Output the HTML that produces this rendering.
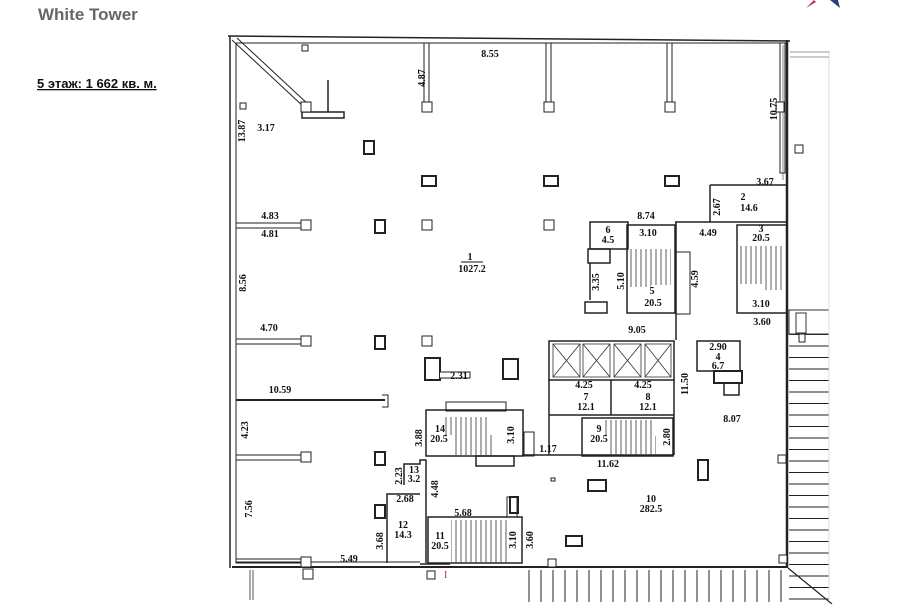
<!DOCTYPE html>
<html><head><meta charset="utf-8"><style>
html,body{margin:0;padding:0;background:#fff;width:900px;height:604px;overflow:hidden}
svg{display:block}
.t{font-family:"Liberation Serif",serif;font-size:10px;font-weight:bold;fill:#111}
</style></head><body>
<svg width="900" height="604" viewBox="0 0 900 604" xmlns="http://www.w3.org/2000/svg">
<defs>
<pattern id="vh" width="12" height="40" patternUnits="userSpaceOnUse"><line x1="1" y1="0" x2="1" y2="40" stroke="#222" stroke-width="1"/></pattern>
<pattern id="hh" width="40" height="11.5" patternUnits="userSpaceOnUse"><line x1="0" y1="1" x2="40" y2="1" stroke="#222" stroke-width="1"/></pattern>
<pattern id="st" width="5" height="40" patternUnits="userSpaceOnUse"><line x1="1" y1="0" x2="1" y2="40" stroke="#333" stroke-width="0.8"/></pattern>
</defs>
<text x="38" y="20" font-family="Liberation Sans,sans-serif" font-weight="bold" font-size="17" fill="#666">White Tower</text>
<text x="37" y="88" font-family="Liberation Sans,sans-serif" font-weight="bold" font-size="13" fill="#111" text-decoration="underline">5 этаж: 1 662 кв. м.</text>
<path d="M806 8 L814 0 L816 2 Z" fill="#c8324a"/><path d="M830 0 L840 8 L838 0 Z" fill="#2a3f80"/>

<rect x="789" y="333" width="40" height="267" fill="url(#hh)"/>
<rect x="789" y="310" width="40" height="24" fill="#fff" stroke="#333"/>
<rect x="796" y="313" width="10" height="20" fill="none" stroke="#333"/>
<rect x="518" y="570" width="270" height="32" fill="url(#vh)"/>
<line x1="788" y1="568" x2="832" y2="604" stroke="#222" stroke-width="1.2"/>
<line x1="250" y1="570" x2="250" y2="600" stroke="#555"/><line x1="253" y1="570" x2="253" y2="600" stroke="#555"/>
<line x1="829" y1="50" x2="829" y2="600" stroke="#ddd"/>
<line x1="790" y1="52" x2="829" y2="52" stroke="#999"/><line x1="790" y1="57" x2="829" y2="57" stroke="#999"/>

<g fill="none" stroke="#222">
<line x1="228" y1="36" x2="790" y2="41" stroke-width="1.5"/>
<line x1="236" y1="43" x2="788" y2="43" stroke-width="1"/>
<line x1="230" y1="36" x2="230" y2="568" stroke-width="1.5"/>
<line x1="236" y1="43" x2="236" y2="563" stroke-width="1"/>
<line x1="787" y1="40" x2="787" y2="568" stroke-width="2.5"/>
<line x1="783" y1="45" x2="783" y2="180" stroke="#888"/>
<line x1="232" y1="567" x2="788" y2="567" stroke-width="2"/>
<line x1="236" y1="562" x2="420" y2="562" stroke-width="1"/>
<line x1="232" y1="40" x2="305" y2="108" stroke-width="1"/><line x1="237" y1="38" x2="310" y2="106" stroke-width="1"/>
<rect x="302" y="112" width="42" height="6" stroke-width="1.5"/>
<line x1="328" y1="80" x2="328" y2="112" stroke-width="1.5"/>
<rect x="424" y="43" width="5" height="60"/><rect x="546" y="43" width="5" height="60"/><rect x="667" y="43" width="5" height="60"/><rect x="780" y="43" width="5" height="130"/>
<rect x="236" y="223" width="70" height="5"/><rect x="236" y="339" width="70" height="5"/><rect x="236" y="455" width="70" height="5"/><rect x="236" y="559" width="70" height="4"/>
<line x1="236" y1="400" x2="385" y2="400" stroke-width="2"/>
<path d="M382 395 H388 V407 H382"/>
</g>
<g fill="#fff" stroke="#222" stroke-width="1">
<rect x="301" y="102" width="10" height="10"/><rect x="422" y="102" width="10" height="10"/><rect x="544" y="102" width="10" height="10"/><rect x="665" y="102" width="10" height="10"/><rect x="776" y="102" width="8" height="10"/>
<rect x="301" y="220" width="10" height="10"/><rect x="422" y="220" width="10" height="10"/><rect x="544" y="220" width="10" height="10"/>
<rect x="301" y="336" width="10" height="10"/><rect x="422" y="336" width="10" height="10"/>
<rect x="301" y="452" width="10" height="10"/><rect x="301" y="557" width="10" height="10"/>
<rect x="303" y="569" width="10" height="10"/><rect x="427" y="571" width="8" height="8"/><rect x="795" y="145" width="8" height="8"/>
<rect x="302" y="45" width="6" height="6"/><rect x="240" y="103" width="6" height="6"/>
<rect x="364" y="141" width="10" height="13" stroke-width="2"/><rect x="375" y="220" width="10" height="13" stroke-width="2"/><rect x="375" y="336" width="10" height="13" stroke-width="2"/>
<rect x="422" y="176" width="14" height="10" stroke-width="2"/><rect x="544" y="176" width="14" height="10" stroke-width="2"/><rect x="665" y="176" width="14" height="10" stroke-width="2"/>
<rect x="425" y="358" width="15" height="22" stroke-width="2"/><path d="M440 372 H470 V378 H440" /><rect x="503" y="359" width="15" height="20" stroke-width="2"/>
<rect x="375" y="452" width="10" height="13" stroke-width="2"/><rect x="375" y="505" width="10" height="13" stroke-width="2"/>
<rect x="588" y="480" width="18" height="11" stroke-width="2"/><rect x="566" y="536" width="16" height="10" stroke-width="2"/><rect x="698" y="460" width="10" height="20" stroke-width="2"/>
<rect x="551" y="478" width="4" height="3"/>
<rect x="510" y="497" width="8" height="16" stroke-width="2"/>
<rect x="548" y="559" width="8" height="8"/><rect x="778" y="455" width="8" height="8"/><rect x="779" y="555" width="8" height="8"/><rect x="799" y="334" width="6" height="8"/>
</g>
<g fill="none" stroke="#222" stroke-width="1.5">
<rect x="627" y="225" width="48" height="88"/>
<rect x="590" y="222" width="38" height="27"/>
<rect x="588" y="249" width="22" height="14"/>
<line x1="590" y1="263" x2="590" y2="300"/>
<rect x="585" y="302" width="22" height="11"/>
<rect x="676" y="252" width="14" height="62" stroke-width="1"/>
<line x1="675" y1="222" x2="710" y2="222"/><line x1="710" y1="222" x2="710" y2="185"/><line x1="710" y1="185" x2="787" y2="185"/><line x1="710" y1="222" x2="787" y2="222"/>
<line x1="676" y1="222" x2="676" y2="340"/>
<rect x="737" y="225" width="50" height="88"/>
<rect x="549" y="341" width="125" height="39"/>
<line x1="549" y1="380" x2="549" y2="455"/><line x1="611" y1="380" x2="611" y2="415"/><line x1="674" y1="380" x2="674" y2="455"/>
<line x1="549" y1="415" x2="674" y2="415"/>
<rect x="582" y="418" width="91" height="38"/>
<line x1="522" y1="455" x2="674" y2="455"/>
<rect x="697" y="341" width="43" height="30"/>
<rect x="714" y="371" width="28" height="12" stroke-width="2"/><rect x="724" y="383" width="15" height="12"/>
<rect x="426" y="410" width="97" height="46"/>
<rect x="446" y="402" width="60" height="9" stroke-width="1"/>
<rect x="476" y="456" width="38" height="10"/>
<rect x="524" y="432" width="10" height="24" stroke-width="1"/>
<path d="M404 485 V464 H420 V460 H426 V563"/>
<path d="M387 563 V494 H420"/>
<rect x="428" y="517" width="94" height="46"/>
<rect x="507" y="497" width="10" height="20" stroke-width="1"/>
<line x1="420" y1="564" x2="450" y2="564"/>
</g>
<g stroke="#333" stroke-width="0.8" fill="none">
<rect x="553" y="344" width="27" height="33"/><line x1="553" y1="344" x2="580" y2="377"/><line x1="580" y1="344" x2="553" y2="377"/>
<rect x="583" y="344" width="27" height="33"/><line x1="583" y1="344" x2="610" y2="377"/><line x1="610" y1="344" x2="583" y2="377"/>
<rect x="614" y="344" width="27" height="33"/><line x1="614" y1="344" x2="641" y2="377"/><line x1="641" y1="344" x2="614" y2="377"/>
<rect x="645" y="344" width="26" height="33"/><line x1="645" y1="344" x2="671" y2="377"/><line x1="671" y1="344" x2="645" y2="377"/>
</g>
<rect x="629" y="249" width="22" height="38" fill="url(#st)"/><rect x="651" y="249" width="20" height="36" fill="url(#st)"/>
<rect x="740" y="246" width="22" height="38" fill="url(#st)"/><rect x="762" y="246" width="22" height="44" fill="url(#st)"/>
<rect x="445" y="417" width="42" height="18" fill="url(#st)"/><rect x="452" y="435" width="40" height="20" fill="url(#st)"/>
<rect x="603" y="420" width="50" height="16" fill="url(#st)"/><rect x="608" y="436" width="48" height="18" fill="url(#st)"/>
<rect x="451" y="520" width="56" height="20" fill="url(#st)"/><rect x="451" y="540" width="56" height="22" fill="url(#st)"/>
<g class="t" text-anchor="middle">
<text x="266" y="131">3.17</text>
<text x="490" y="57">8.55</text>
<text x="765" y="185">3.67</text>
<text x="646" y="219">8.74</text>
<text x="708" y="236">4.49</text>
<text x="270" y="219">4.83</text>
<text x="270" y="237">4.81</text>
<text x="269" y="331">4.70</text>
<text x="280" y="393">10.59</text>
<text x="470" y="260">1</text><line x1="461" y1="262" x2="483" y2="262" stroke="#111"/><text x="472" y="272">1027.2</text>
<text x="608" y="233">6</text><text x="608" y="243">4.5</text>
<text x="648" y="236">3.10</text>
<text x="652" y="294">5</text><text x="653" y="306">20.5</text>
<text x="761" y="232">3</text><text x="761" y="241">20.5</text>
<text x="761" y="307">3.10</text>
<text x="762" y="325">3.60</text>
<text x="743" y="200">2</text><text x="749" y="211">14.6</text>
<text x="637" y="333">9.05</text>
<text x="718" y="350">2.90</text><text x="718" y="360">4</text><text x="718" y="369">6.7</text>
<text x="459" y="379">2.31</text>
<text x="584" y="388">4.25</text><text x="643" y="388">4.25</text>
<text x="586" y="400">7</text><text x="586" y="410">12.1</text>
<text x="648" y="400">8</text><text x="648" y="410">12.1</text>
<text x="732" y="422">8.07</text>
<text x="599" y="432">9</text><text x="599" y="442">20.5</text>
<text x="440" y="432">14</text><text x="439" y="442">20.5</text>
<text x="548" y="452">1.17</text>
<text x="608" y="467">11.62</text>
<text x="414" y="473">13</text><text x="414" y="482">3.2</text>
<text x="405" y="502">2.68</text>
<text x="463" y="516">5.68</text>
<text x="403" y="528">12</text><text x="403" y="538">14.3</text>
<text x="440" y="539">11</text><text x="440" y="549">20.5</text>
<text x="349" y="562">5.49</text>
<text x="651" y="502">10</text><text x="651" y="512">282.5</text>
</g>
<g class="t" text-anchor="middle">
<text transform="translate(425,78) rotate(-90)">4.87</text>
<text transform="translate(245,131) rotate(-90)">13.87</text>
<text transform="translate(777,109) rotate(-90)">10.75</text>
<text transform="translate(720,207) rotate(-90)">2.67</text>
<text transform="translate(599,282) rotate(-90)">3.35</text>
<text transform="translate(624,281) rotate(-90)">5.10</text>
<text transform="translate(698,279) rotate(-90)">4.59</text>
<text transform="translate(246,283) rotate(-90)">8.56</text>
<text transform="translate(248,430) rotate(-90)">4.23</text>
<text transform="translate(688,384) rotate(-90)">11.50</text>
<text transform="translate(422,438) rotate(-90)">3.88</text>
<text transform="translate(514,435) rotate(-90)">3.10</text>
<text transform="translate(670,437) rotate(-90)">2.80</text>
<text transform="translate(402,476) rotate(-90)">2.23</text>
<text transform="translate(438,489) rotate(-90)">4.48</text>
<text transform="translate(252,509) rotate(-90)">7.56</text>
<text transform="translate(383,541) rotate(-90)">3.68</text>
<text transform="translate(516,540) rotate(-90)">3.10</text>
<text transform="translate(533,540) rotate(-90)">3.60</text>
</g>
<text x="444" y="578" font-family="Liberation Serif,serif" font-size="10" fill="#c03030">I</text>
</svg>
</body></html>
